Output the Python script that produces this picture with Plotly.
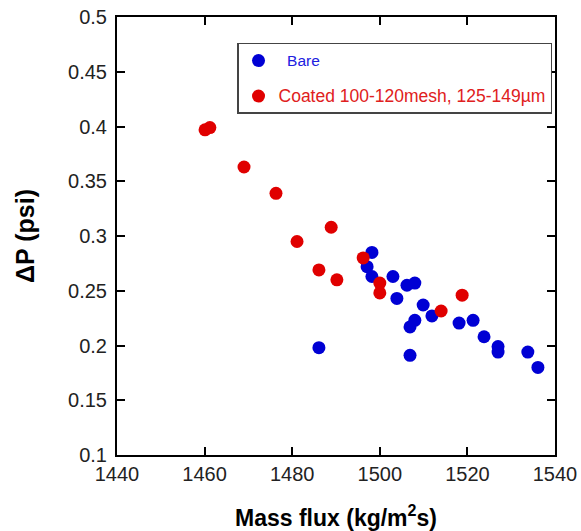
import plotly.graph_objects as go

bare_x = [1486.1, 1498.2, 1497.1, 1498.2, 1503.0, 1503.9, 1506.2, 1508.0, 1509.9,
          1511.9, 1508.0, 1506.9, 1506.9, 1518.1, 1521.3, 1523.8, 1527.0, 1527.0,
          1533.8, 1536.1]
bare_y = [0.198, 0.285, 0.272, 0.263, 0.263, 0.243, 0.255, 0.257, 0.237,
          0.227, 0.223, 0.217, 0.191, 0.2205, 0.223, 0.208, 0.199, 0.194,
          0.194, 0.180]

coated_x = [1460.1, 1461.2, 1469.0, 1476.3, 1481.1, 1488.9, 1486.1, 1490.2,
            1496.2, 1500.0, 1500.0, 1514.0, 1518.8]
coated_y = [0.397, 0.399, 0.363, 0.339, 0.295, 0.308, 0.269, 0.260,
            0.280, 0.257, 0.248, 0.2315, 0.246]

x_ticks = [1440, 1460, 1480, 1500, 1520, 1540]
y_ticks = [0.1, 0.15, 0.2, 0.25, 0.3, 0.35, 0.4, 0.45, 0.5]

fig = go.Figure()
fig.add_trace(go.Scatter(
    x=bare_x, y=bare_y, mode="markers",
    name="<span style='font-size:15.5px'>&nbsp;&nbsp;Bare</span>",
    legendgroup="a",
    marker=dict(size=13, color="#0000d4"),
))
fig.add_trace(go.Scatter(
    x=coated_x, y=coated_y, mode="markers",
    name="<span style='font-size:17.5px;color:#e02020'>Coated 100-120mesh, 125-149µm</span>",
    legendgroup="b",
    marker=dict(size=13, color="#e00000"),
))

axis_common = dict(
    showline=True, linecolor="black", linewidth=2, mirror="ticks",
    ticks="inside", ticklen=8, tickwidth=2, tickcolor="black",
    showgrid=False, zeroline=False, automargin=False,
    tickfont=dict(family="Liberation Sans, Arial", size=20, color="#222222"),
)

fig.update_xaxes(range=[1440, 1540], tickvals=x_ticks,
                 ticktext=[str(v) for v in x_ticks],
                 title=dict(text="<b>Mass flux (kg/m<sup>2</sup>s)</b>",
                            font=dict(family="Liberation Sans, Arial", size=23, color="black"),
                            standoff=26),
                 **axis_common)
fig.update_yaxes(range=[0.1, 0.5], tickvals=y_ticks,
                 ticktext=[f"{v:g}" for v in y_ticks],
                 ticklabelstandoff=4,
                 title=dict(text="<b>ΔP (psi)</b>",
                            font=dict(family="Liberation Sans, Arial", size=25, color="black"),
                            standoff=26),
                 **axis_common)

fig.update_layout(
    width=581, height=531,
    margin=dict(l=117, r=26, t=17, b=76),
    plot_bgcolor="white", paper_bgcolor="white",
    font=dict(family="Liberation Sans, Arial"),
    legend=dict(
        x=0.274, y=0.941, xanchor="left", yanchor="top",
        bordercolor="#444444", borderwidth=1.5, bgcolor="white",
        font=dict(family="Liberation Sans, Arial", size=15, color="#2020e0"),
        tracegroupgap=13,
    ),
)

fig.write_html("out.html")
